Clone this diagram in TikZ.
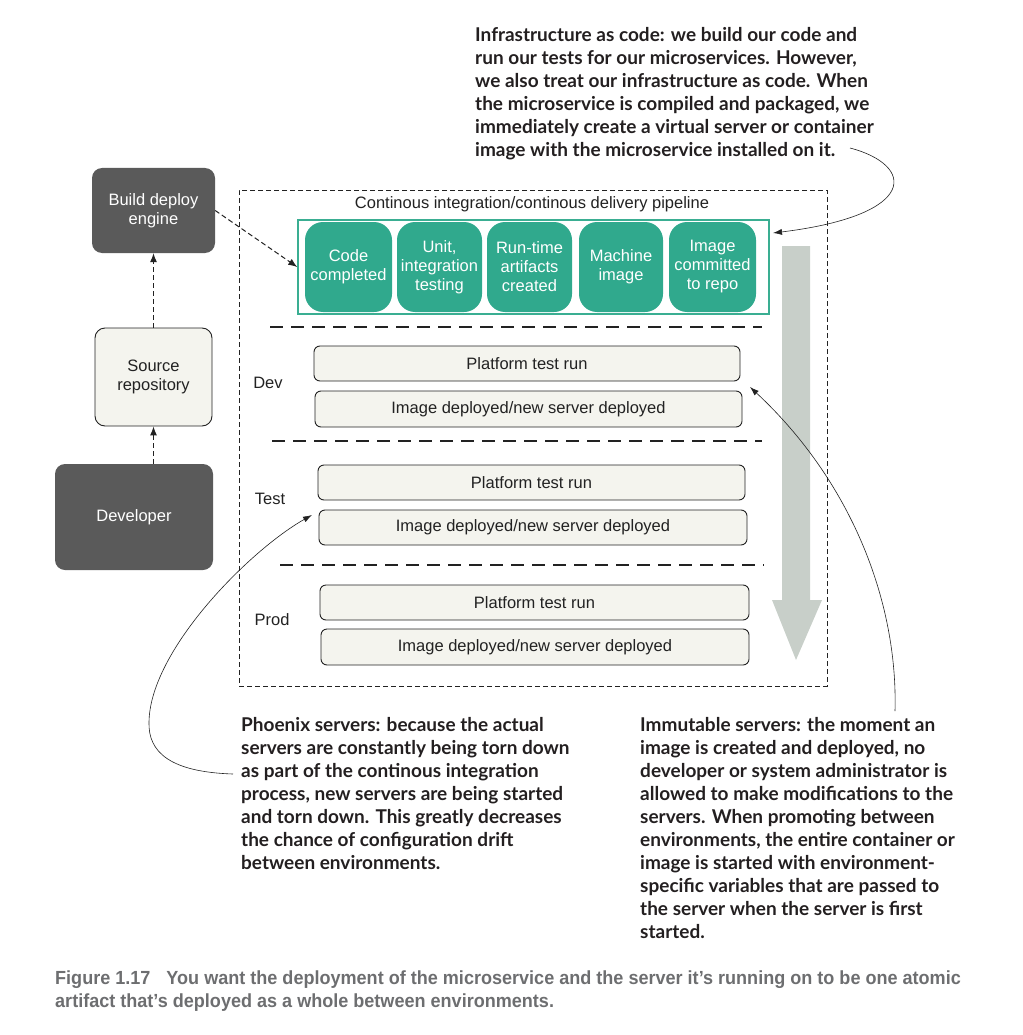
\documentclass[tikz,border=0pt]{standalone}
\usepackage{fontspec}
\setmainfont{Liberation Sans}
\newfontfamily\notefont{Lato}
\newfontfamily\capfont[FakeStretch=0.95]{Liberation Sans}
\usetikzlibrary{arrows.meta}

\definecolor{darkbox}{HTML}{5A5A5A}
\definecolor{lightbox}{HTML}{F4F4EE}
\definecolor{stagefill}{HTML}{30A98D}
\definecolor{stageline}{HTML}{3AAE92}
\definecolor{flowgray}{HTML}{C8CFC9}
\definecolor{captext}{HTML}{6D6E70}
\definecolor{ink}{HTML}{222222}
\definecolor{notecol}{HTML}{231F20}

\begin{document}
\begin{tikzpicture}[x=1pt,y=-1pt,
  darknode/.style={fill=darkbox, rounded corners=10pt, text=white, align=center,
    font=\fontsize{16.5}{19}\selectfont, inner sep=0},
  lightnode/.style={draw=ink, line width=0.9pt, fill=lightbox, rounded corners=10pt,
    text=ink, align=center, font=\fontsize{16.5}{19}\selectfont, inner sep=0},
  stagebox/.style={fill=stagefill, rounded corners=18pt, text=white, align=center,
    font=\fontsize{16.5}{19}\selectfont, inner sep=0, minimum height=90pt},
  envbox/.style={draw=ink, line width=0.9pt, fill=lightbox, rounded corners=6pt,
    text=ink, font=\fontsize{16.5}{18}\selectfont, inner sep=0, minimum height=35pt},
  envlabel/.style={text=ink, font=\fontsize{16.5}{18}\selectfont, inner sep=0},
  flowarrow/.style={draw=ink, line width=1pt, dash pattern=on 5pt off 3pt,
    -{Latex[length=9pt,width=7pt]}},
  separator/.style={draw=ink, line width=1.4pt, dash pattern=on 13pt off 8pt},
  callout/.style={draw=ink, line width=0.6pt, -{Latex[length=9pt,width=6pt]}},
  note/.style={text=notecol, align=left, anchor=north west, inner sep=0,
    font=\notefont\bfseries\fontsize{19}{23}\selectfont}
]
\useasboundingbox (0,0) rectangle (1022,1035);

% left-hand chain: developer -> repository -> build engine
\node[darknode, minimum width=123pt, minimum height=85pt] (build) at (153.5,210.5) {Build deploy\\engine};
\node[lightnode, minimum width=117pt, minimum height=98pt] (repo) at (153.5,377) {Source\\repository};
\node[darknode, minimum width=158pt, minimum height=106pt] (dev) at (134,517) {Developer};

% pipeline frame
\node[draw=ink, line width=0.9pt, dash pattern=on 5pt off 3pt, minimum width=588pt,
  minimum height=496pt, inner sep=0] (frame) at (533,438) {};
\node[text=ink, font=\fontsize{16.5}{18}\selectfont, inner sep=0] (title) at (532,204)
  {Continous integration/continous delivery pipeline};

% CI stages
\node[draw=stageline, line width=1.5pt, minimum width=471pt, minimum height=94pt, inner sep=0]
  (pipe) at (533.5,267) {};
\node[stagebox, minimum width=87pt] (s1) at (348.5,267) {Code\\completed};
\node[stagebox, minimum width=85pt] (s2) at (439.5,267) {Unit,\\integration\\testing};
\node[stagebox, minimum width=85pt] (s3) at (529.5,267) {Run-time\\artifacts\\created};
\node[stagebox, minimum width=84pt] (s4) at (621,267) {Machine\\image};
\node[stagebox, minimum width=87pt] (s5) at (712.5,267) {Image\\committed\\to repo};

% environment separators
\draw[separator] (270,327) -- (762,327);
\draw[separator] (272,441) -- (762,441);
\draw[separator] (280,565) -- (764,565);

% environments
\node[envlabel] (devlab) at (268,383) {Dev};
\node[envbox, minimum width=426pt] (p1) at (527,363.5) {Platform test run};
\node[envbox, minimum width=427pt, minimum height=36pt] (i1) at (528.5,409) {Image deployed/new server deployed};

\node[envlabel] (testlab) at (270,499) {Test};
\node[envbox, minimum width=427pt] (p2) at (531.5,482.5) {Platform test run};
\node[envbox, minimum width=428pt] (i2) at (533,527.5) {Image deployed/new server deployed};

\node[envlabel] (prodlab) at (272,620) {Prod};
\node[envbox, minimum width=429pt] (p3) at (534.5,602.5) {Platform test run};
\node[envbox, minimum width=428pt, minimum height=36pt] (i3) at (535,647) {Image deployed/new server deployed};

% promotion arrow
\fill[flowgray] (782,246) -- (810,246) -- (810,600) -- (822,600) -- (796,660)
  -- (772,600) -- (782,600) -- cycle;

% chain arrows
\draw[flowarrow] (dev.north -| repo.south) -- (repo.south);
\draw[flowarrow] (repo.north) -- (build.south);
\draw[flowarrow] (build.east) -- (pipe.west);

% notes
\node[note] (iac) at (475,27) {Infrastructure as code: we build our code and\\
run our tests for our microservices. However,\\
we also treat our infrastructure as code. When\\
the microservice is compiled and packaged, we\\
immediately create a virtual server or container\\
image with the microservice installed on it.};

\node[note] (phoenix) at (241,717) {Phoenix servers: because the actual\\
servers are constantly being torn down\\
as part of the continous integration\\
process, new servers are being started\\
and torn down. This greatly decreases\\
the chance of configuration drift\\
between environments.};

\node[note] (immut) at (640,717) {Immutable servers: the moment an\\
image is created and deployed, no\\
developer or system administrator is\\
allowed to make modifications to the\\
servers. When promoting between\\
environments, the entire container or\\
image is started with environment-\\
specific variables that are passed to\\
the server when the server is first\\
started.};

% callout curves
\coordinate (iacstart) at (850,148);
\coordinate (iactip) at (773,233);
\draw[callout] (iacstart) .. controls (915,165) and (920,215) .. (iactip);

\coordinate (phxstart) at (233,774);
\coordinate (phxmid) at (149,722);
\coordinate (phxtip) at (312,515);
\draw[callout] (phxstart) .. controls (170,772) and (148,752) .. (phxmid)
  .. controls (150,650) and (250,550) .. (phxtip);

\coordinate (immstart) at (895,711);
\coordinate (immtip) at (750,387);
\draw[callout] (immstart) .. controls (898,600) and (850,480) .. (immtip);

% caption
\node[text=captext, align=left, anchor=north west, inner sep=0,
  font=\capfont\bfseries\fontsize{19}{23}\selectfont] (caption) at (55,971)
  {Figure 1.17\hspace{16pt}You want the deployment of the microservice and the server it’s running on to be one atomic\\
artifact that’s deployed as a whole between environments.};
\end{tikzpicture}
\end{document}
